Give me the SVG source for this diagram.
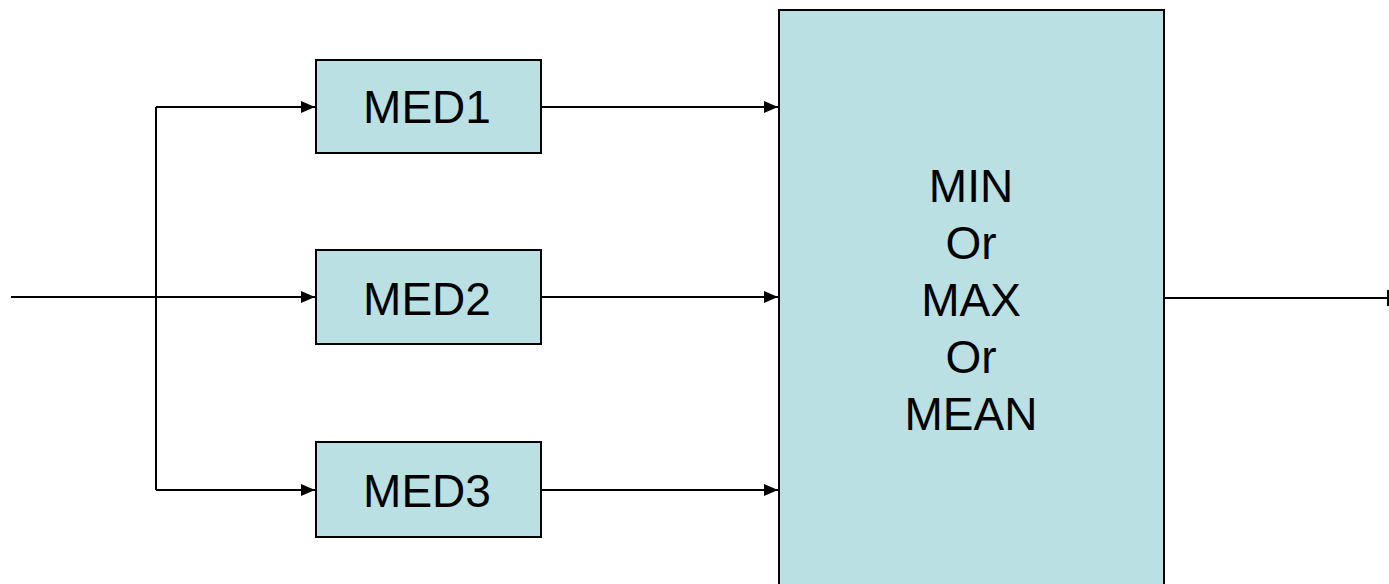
<svg xmlns="http://www.w3.org/2000/svg" width="1389" height="584" viewBox="0 0 1389 584">
<style>
.box{fill:#BAE0E3;stroke:#000;stroke-width:2}
.lbl{font-family:"Liberation Sans",Arial,sans-serif;font-size:46px;fill:#000;text-anchor:middle}
.ln{fill:none;stroke:#000;stroke-width:2}
</style>
<defs>
<marker id="ah" markerWidth="14" markerHeight="12" refX="14" refY="6" orient="auto" markerUnits="userSpaceOnUse">
<path d="M0,0 L14,6 L0,12 Z" fill="#000"/>
</marker>
</defs>
<rect width="1389" height="584" fill="#fff"/>
<g id="connectors">
<path class="ln" d="M11,297 H156"/>
<path class="ln" d="M156,490 V107"/>
<path class="ln" d="M156,107 H315" marker-end="url(#ah)"/>
<path class="ln" d="M156,297 H315" marker-end="url(#ah)"/>
<path class="ln" d="M156,490 H315" marker-end="url(#ah)"/>
<path class="ln" d="M541,107 H778" marker-end="url(#ah)"/>
<path class="ln" d="M541,297 H778" marker-end="url(#ah)"/>
<path class="ln" d="M541,490 H778" marker-end="url(#ah)"/>
<path class="ln" d="M1164,298 H1388"/>
<path class="ln" d="M1388,290 V306"/>
</g>
<g id="med1"><rect class="box" x="316" y="60" width="225" height="93"/><text class="lbl" x="427" y="123">MED1</text></g>
<g id="med2"><rect class="box" x="316" y="250" width="225" height="94"/><text class="lbl" x="427" y="315">MED2</text></g>
<g id="med3"><rect class="box" x="316" y="442" width="225" height="95"/><text class="lbl" x="427" y="507">MED3</text></g>
<g id="combiner"><rect class="box" x="779" y="10" width="385" height="590"/>
<text class="lbl" x="971" y="202">MIN</text>
<text class="lbl" x="971" y="259">Or</text>
<text class="lbl" x="971" y="316">MAX</text>
<text class="lbl" x="971" y="373">Or</text>
<text class="lbl" x="971" y="430">MEAN</text>
</g>
</svg>
